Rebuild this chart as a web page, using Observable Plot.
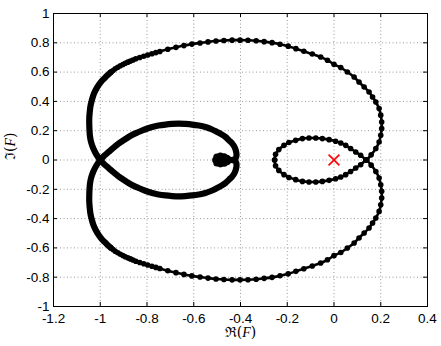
<!DOCTYPE html>
<html>
<head>
<meta charset="utf-8">
<script src="https://cdn.jsdelivr.net/npm/d3@7"></script>
<script src="https://cdn.jsdelivr.net/npm/@observablehq/plot@0.6"></script>
<style>
  html, body { margin: 0; padding: 0; background: white; }
</style>
</head>
<body>
<div id="chart"></div>
<script>
// ---- tick values / labels ----
const xTicks = [-1.2, -1, -0.8, -0.6, -0.4, -0.2, 0, 0.2, 0.4];
const xTickLabels = ["-1.2", "-1", "-0.8", "-0.6", "-0.4", "-0.2", "0", "0.2", "0.4"];
const yTicks = [-1, -0.8, -0.6, -0.4, -0.2, 0, 0.2, 0.4, 0.6, 0.8, 1];
const yTickLabels = ["-1", "-0.8", "-0.6", "-0.4", "-0.2", "0", "0.2", "0.4", "0.6", "0.8", "1"];
const xLabel = "ℜ(F)";
const yLabel = "ℑ(F)";

// ---- curve samples [Re, Im] ----
// densely sampled stretches (markers merge into a solid band)
const outerUpperDense = [
  [-1.000,0.000],[-1.017,0.039],[-1.030,0.080],[-1.039,0.121],[-1.044,0.162],[-1.046,0.203],
  [-1.047,0.244],[-1.047,0.285],[-1.045,0.326],[-1.042,0.367],[-1.036,0.408],[-1.029,0.445],
  [-1.019,0.479],[-1.006,0.513],[-0.991,0.544],[-0.974,0.571],[-0.955,0.599]
];
const outerLowerDense = [
  [-1.000,-0.000],[-1.017,-0.039],[-1.030,-0.080],[-1.039,-0.121],[-1.044,-0.162],[-1.046,-0.203],
  [-1.047,-0.244],[-1.047,-0.285],[-1.045,-0.326],[-1.042,-0.367],[-1.036,-0.408],[-1.029,-0.445],
  [-1.019,-0.479],[-1.006,-0.513],[-0.991,-0.544],[-0.974,-0.571],[-0.955,-0.599]
];
// sparser stretches (individual markers visible)
const outerUpperBeads = [
  [-0.955,0.599],[-0.945,0.611],[-0.936,0.623],[-0.925,0.633],[-0.914,0.643],[-0.903,0.652],
  [-0.893,0.660],[-0.882,0.668],[-0.871,0.675],[-0.860,0.683],[-0.848,0.691],[-0.831,0.700],
  [-0.814,0.708],[-0.797,0.717],[-0.779,0.725],[-0.762,0.733],
  [-0.745,0.741],[-0.711,0.756],[-0.676,0.769],[-0.642,0.781],[-0.608,0.791],[-0.573,0.799],
  [-0.539,0.806],[-0.505,0.812],[-0.471,0.816],[-0.436,0.818],[-0.402,0.818],[-0.368,0.817],
  [-0.333,0.814],[-0.299,0.808],[-0.265,0.801],[-0.231,0.790],[-0.196,0.777],[-0.163,0.760],
  [-0.129,0.742],[-0.093,0.724],[-0.057,0.703],[-0.028,0.681],[0.000,0.653],[0.029,0.631],
  [0.057,0.601],[0.086,0.567],[0.107,0.532],[0.129,0.498],[0.150,0.464],[0.165,0.430],
  [0.179,0.396],[0.193,0.351],[0.200,0.306],[0.204,0.259],[0.204,0.214],[0.200,0.169],
  [0.193,0.123],[0.179,0.078],[0.159,0.035],[0.140,0.000]
];
const outerLowerBeads = [
  [-0.955,-0.599],[-0.945,-0.611],[-0.936,-0.623],[-0.925,-0.633],[-0.914,-0.643],[-0.903,-0.652],
  [-0.893,-0.660],[-0.882,-0.668],[-0.871,-0.675],[-0.860,-0.683],[-0.848,-0.691],[-0.831,-0.700],
  [-0.814,-0.708],[-0.797,-0.717],[-0.779,-0.725],[-0.762,-0.733],
  [-0.745,-0.741],[-0.711,-0.756],[-0.676,-0.769],[-0.642,-0.781],[-0.608,-0.791],[-0.573,-0.799],
  [-0.539,-0.806],[-0.505,-0.812],[-0.471,-0.816],[-0.436,-0.818],[-0.402,-0.818],[-0.368,-0.817],
  [-0.333,-0.814],[-0.299,-0.808],[-0.265,-0.801],[-0.231,-0.790],[-0.196,-0.777],[-0.163,-0.760],
  [-0.129,-0.742],[-0.093,-0.724],[-0.057,-0.703],[-0.028,-0.681],[0.000,-0.653],[0.029,-0.631],
  [0.057,-0.601],[0.086,-0.567],[0.107,-0.532],[0.129,-0.498],[0.150,-0.464],[0.165,-0.430],
  [0.179,-0.396],[0.193,-0.351],[0.200,-0.306],[0.204,-0.259],[0.204,-0.214],[0.200,-0.169],
  [0.193,-0.123],[0.179,-0.078],[0.159,-0.035],[0.140,-0.000]
];
const lobeUpper = [
  [-1.000,0.000],[-0.983,0.029],[-0.964,0.055],[-0.944,0.083],[-0.921,0.112],[-0.901,0.134],
  [-0.879,0.157],[-0.859,0.175],[-0.836,0.191],[-0.807,0.210],[-0.778,0.225],[-0.751,0.235],
  [-0.721,0.242],[-0.693,0.246],[-0.664,0.248],[-0.636,0.246],[-0.607,0.242],[-0.578,0.235],
  [-0.550,0.225],[-0.524,0.210],[-0.500,0.191],[-0.481,0.175],[-0.464,0.157],[-0.449,0.134],
  [-0.435,0.112],[-0.425,0.087],[-0.419,0.059],[-0.417,0.032],[-0.421,0.010],[-0.432,0.002]
];
const lobeLower = [
  [-1.000,-0.000],[-0.983,-0.029],[-0.964,-0.055],[-0.944,-0.083],[-0.921,-0.112],[-0.901,-0.134],
  [-0.879,-0.157],[-0.859,-0.175],[-0.836,-0.191],[-0.807,-0.210],[-0.778,-0.225],[-0.751,-0.235],
  [-0.721,-0.242],[-0.693,-0.246],[-0.664,-0.248],[-0.636,-0.246],[-0.607,-0.242],[-0.578,-0.235],
  [-0.550,-0.225],[-0.524,-0.210],[-0.500,-0.191],[-0.481,-0.175],[-0.464,-0.157],[-0.449,-0.134],
  [-0.435,-0.112],[-0.425,-0.087],[-0.419,-0.059],[-0.417,-0.032],[-0.421,-0.010],[-0.432,-0.002]
];
const spiralCore = [
  [-0.486,0.000],[-0.506,0.000],[-0.501,0.020],[-0.486,0.026],[-0.470,0.022],[-0.458,0.012],
  [-0.501,-0.020],[-0.486,-0.026],[-0.470,-0.022],[-0.458,-0.012],[-0.447,0.000]
];
const loopUpper = [
  [0.136,0.000],[0.114,0.032],[0.093,0.055],[0.071,0.078],[0.050,0.100],[0.029,0.116],
  [0.007,0.128],[-0.021,0.139],[-0.050,0.146],[-0.078,0.150],[-0.107,0.150],[-0.135,0.146],
  [-0.164,0.134],[-0.193,0.119],[-0.214,0.100],[-0.236,0.071],[-0.250,0.039],[-0.254,0.000]
];
const loopLower = [
  [0.136,-0.000],[0.114,-0.032],[0.093,-0.055],[0.071,-0.078],[0.050,-0.100],[0.029,-0.116],
  [0.007,-0.128],[-0.021,-0.139],[-0.050,-0.146],[-0.078,-0.150],[-0.107,-0.150],[-0.135,-0.146],
  [-0.164,-0.134],[-0.193,-0.119],[-0.214,-0.100],[-0.236,-0.071],[-0.250,-0.039],[-0.254,-0.000]
];
const criticalPoint = [[0, 0]];

// ---- layout ----
const W = 441, H = 346, ML = 53, MR = 14, MT = 13, MB = 40;
const innerW = W - ML - MR, innerH = H - MT - MB;
const tickLen = 4;

const curveMarks = [];
for (const p of [outerUpperDense, outerLowerDense, lobeUpper, lobeLower]) {
  curveMarks.push(Plot.line(p, {x: d => d[0], y: d => d[1], stroke: "black", strokeWidth: 6.2, strokeLinecap: "round", curve: "catmull-rom"}));
}
curveMarks.push(Plot.dot(spiralCore, {x: d => d[0], y: d => d[1], r: 3.6, fill: "black", stroke: "none"}));
for (const p of [outerUpperBeads, outerLowerBeads, loopUpper, loopLower]) {
  curveMarks.push(Plot.line(p, {x: d => d[0], y: d => d[1], stroke: "black", strokeWidth: 2.6, curve: "catmull-rom"}));
  curveMarks.push(Plot.dot(p, {x: d => d[0], y: d => d[1], r: 2.8, fill: "black", stroke: "none"}));
}

const svg = Plot.plot({
  width: W, height: H,
  marginLeft: ML, marginRight: MR, marginTop: MT, marginBottom: MB,
  style: {fontFamily: "'Liberation Sans', Arial, sans-serif", fontSize: "13.5px", background: "white", color: "black"},
  x: {domain: [-1.2, 0.4]},
  y: {domain: [-1, 1]},
  marks: [
    Plot.gridX(xTicks, {stroke: "#9a9a9a", strokeOpacity: 1, strokeDasharray: "1,2.5"}),
    Plot.gridY(yTicks, {stroke: "#9a9a9a", strokeOpacity: 1, strokeDasharray: "1,2.5"}),
    Plot.tickX(xTicks, {x: d => d, insetTop: innerH - tickLen, stroke: "black"}),
    Plot.tickX(xTicks, {x: d => d, insetBottom: innerH - tickLen, stroke: "black"}),
    Plot.tickY(yTicks, {y: d => d, insetRight: innerW - tickLen, stroke: "black"}),
    Plot.tickY(yTicks, {y: d => d, insetLeft: innerW - tickLen, stroke: "black"}),
    Plot.axisX(xTicks, {tickSize: 0, tickPadding: 7, tickFormat: d => xTickLabels[xTicks.indexOf(d)], label: null, fill: "black"}),
    Plot.axisY(yTicks, {tickSize: 0, tickPadding: 4, tickFormat: d => yTickLabels[yTicks.indexOf(d)], label: null, fill: "black"}),
    ...curveMarks,
    Plot.dot(criticalPoint, {x: d => d[0], y: d => d[1], symbol: "times", r: 5, stroke: "red", strokeWidth: 1.6}),
    Plot.frame({stroke: "black", strokeWidth: 1}),
    Plot.text([xLabel], {frameAnchor: "bottom", dy: 30, text: d => d, fill: "black"}),
    Plot.text([yLabel], {frameAnchor: "left", dx: -43, rotate: -90, text: d => d, fill: "black"})
  ]
});

// font sizes: tick labels; math-style axis labels with italic F
const ns = "http://www.w3.org/2000/svg";
svg.querySelectorAll("text").forEach(t => {
  const s = t.textContent;
  if (s === xLabel || s === yLabel) {
    t.textContent = "";
    t.style.fontFamily = "'DejaVu Serif', 'Liberation Serif', serif";
    t.style.fontSize = "14px";
    const a = document.createElementNS(ns, "tspan"); a.textContent = s[0] + "(";
    const b = document.createElementNS(ns, "tspan"); b.textContent = "F";
    b.style.fontStyle = "italic";
    b.style.fontFamily = "'Liberation Serif', 'DejaVu Serif', serif";
    const c = document.createElementNS(ns, "tspan"); c.textContent = ")";
    t.append(a, b, c);
  } else {
    t.style.fontSize = "13.5px";
    t.style.fontFamily = "'Liberation Sans', Arial, sans-serif";
  }
});

document.getElementById("chart").appendChild(svg);
</script>
</body>
</html>
